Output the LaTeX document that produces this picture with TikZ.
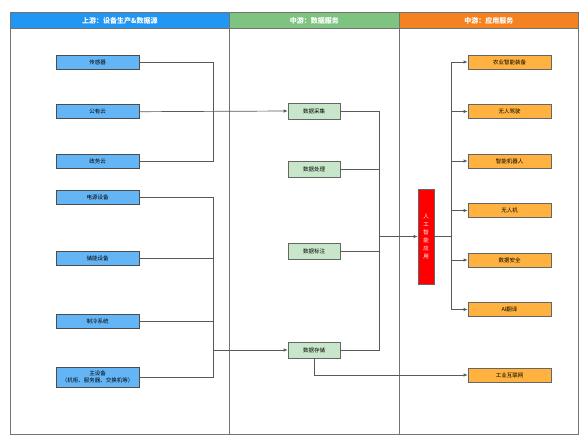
\documentclass[tikz,border=0pt]{standalone}
\usepackage{fontspec}
\setmainfont{Noto Sans CJK SC}
\usetikzlibrary{arrows.meta, positioning}
\usepackage{xcolor}
\definecolor{HeadUp}{RGB}{33, 150, 243}
\definecolor{HeadMid}{RGB}{126, 196, 128}
\definecolor{HeadApp}{RGB}{245, 130, 32}
\definecolor{SrcFill}{RGB}{100, 181, 246}
\definecolor{DataFill}{RGB}{200, 230, 201}
\definecolor{AppFill}{RGB}{255, 178, 64}
\definecolor{AIRed}{RGB}{255, 0, 0}
\tikzset{
    headbox/.style={
        rectangle, draw=black!55, line width=0.8pt, text=white,
        font=\fontsize{7}{8}\selectfont\bfseries,
        minimum height=16pt, inner sep=0pt, anchor=north west
    },
    srcbox/.style={
        rectangle, draw=black!70, line width=0.7pt, fill=SrcFill,
        font=\fontsize{5.5}{6.5}\selectfont, align=center,
        minimum width=83pt, minimum height=14pt, inner sep=1pt
    },
    databox/.style={
        rectangle, draw=black!60, line width=0.7pt, fill=DataFill,
        font=\fontsize{5.5}{6.5}\selectfont,
        minimum width=52pt, minimum height=16pt, inner sep=1pt
    },
    appbox/.style={
        rectangle, draw=black!60, line width=0.7pt, fill=AppFill,
        font=\fontsize{5.5}{6.5}\selectfont,
        minimum width=83pt, minimum height=14pt, inner sep=1pt
    },
    aibox/.style={
        rectangle, draw=black!60, line width=0.7pt, fill=AIRed, text=white,
        font=\fontsize{5.5}{8}\selectfont, align=center, text width=8pt,
        minimum width=16pt, minimum height=95pt, inner sep=1pt
    },
    frameline/.style={draw=black!55, line width=0.9pt},
    link/.style={draw=black!65, line width=0.7pt},
    arrow/.style={link, -{Latex[length=4pt, width=3.5pt]}}
}

\begin{document}
\begin{tikzpicture}[x=1pt, y=-1pt]
    \useasboundingbox (0,0) rectangle (588,445);

    % FRAME AND HEADERS
    \draw[frameline] (10,12) rectangle (578,434);
    \draw[frameline] (229,28) -- (229,434);
    \draw[frameline] (399,28) -- (399,434);
    \node[headbox, fill=HeadUp, minimum width=219pt] (hUp) at (10,12) {上游：设备生产\&数据源};
    \node[headbox, fill=HeadMid, minimum width=170pt] (hMid) at (229,12) {中游：数据服务};
    \node[headbox, fill=HeadApp, minimum width=179pt] (hApp) at (399,12) {中游：应用服务};

    % UPSTREAM
    \node[srcbox] (sensor) at (97.5,62) {传感器};
    \node[srcbox, below=35pt of sensor] (pubcloud) {公有云};
    \node[srcbox, below=35pt of pubcloud] (govcloud) {政务云};
    \node[srcbox] (power) at (97.5,197) {电源设备};
    \node[srcbox] (storage) at (97.5,258) {储能设备};
    \node[srcbox] (cooling) at (97.5,321) {制冷系统};
    \node[srcbox, minimum height=20pt, inner sep=0.5pt] (mainequip) at (97.5,377) {主设备\\（机柜、服务器、交换机等）};

    % MIDSTREAM: DATA
    \node[databox] (collect) at (314,111) {数据采集};
    \node[databox] (process) at (314,169) {数据处理};
    \node[databox] (label) at (314,251) {数据标注};
    \node[databox] (store) at (314,350) {数据存储};

    % MIDSTREAM: APPLICATIONS
    \node[aibox] (ai) at (426,236.5) {人\\工\\智\\能\\应\\用};
    \node[appbox] (agri) at (509.5,62) {农业智能装备};
    \node[appbox, below=34.8pt of agri] (driving) {无人驾驶};
    \node[appbox, below=34.8pt of driving] (robot) {智能机器人};
    \node[appbox, below=34.8pt of robot] (drone) {无人机};
    \node[appbox, below=34.8pt of drone] (security) {数据安全};
    \node[appbox, below=34.8pt of security] (translate) {AI翻译};
    \node[appbox] (iiot) at (509.5,375) {工业互联网};

    % CONNECTORS
    \draw[link] (sensor.east) -- ++(74,0) |- (govcloud.east);
    \draw[arrow] (pubcloud.east) -- (collect.west);

    \draw[link] (power.east) -- ++(74,0) |- (mainequip.east);
    \draw[link] (storage.east) -- ++(74,0);
    \draw[link] (cooling.east) -- ++(74,0);
    \coordinate (srcbus) at (213,350);
    \draw[arrow] (srcbus) -- (store.west);

    \draw[link] (collect.east) -- ++(39,0) |- (store.east);
    \draw[link] (process.east) -- ++(39,0);
    \draw[link] (label.east) -- ++(39,0);
    \coordinate (databus) at (379,236.5);
    \draw[arrow] (databus) -- (ai.west);

    \coordinate (appbus) at (451,236.5);
    \draw[link] (ai.east) -- (appbus);
    \foreach \app in {agri, driving, robot, drone, security, translate}
        \draw[arrow] (appbus) |- (\app.west);

    \draw[arrow] (store.south) |- (iiot.west);

\end{tikzpicture}
\end{document}
